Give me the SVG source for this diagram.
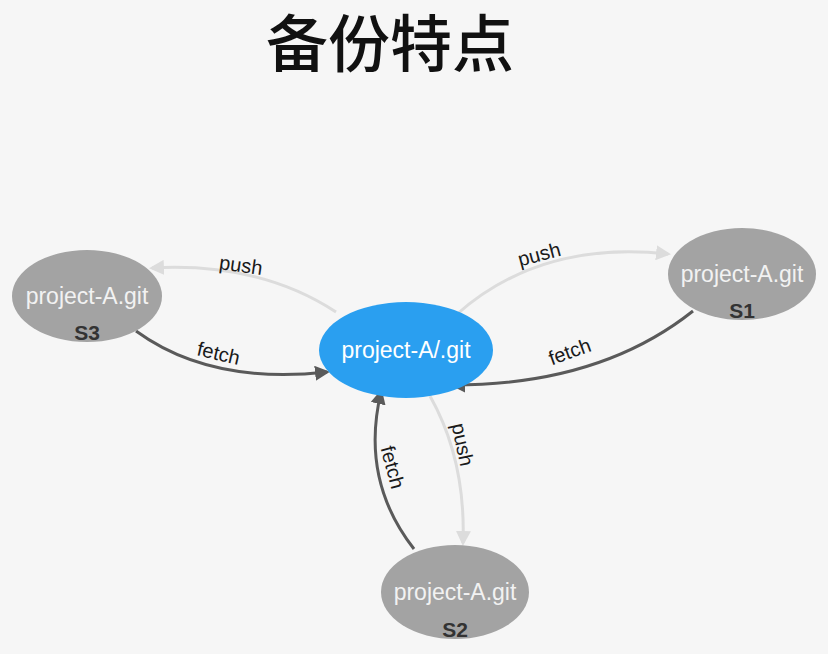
<svg xmlns="http://www.w3.org/2000/svg" width="828" height="654" viewBox="0 0 828 654">
<defs>
<style>
.push{fill:none;stroke:#dcdcdc;stroke-width:3}
.fetch{fill:none;stroke:#5a5a5a;stroke-width:3}
.lbl{font-family:"Liberation Sans",Arial,sans-serif;font-size:20px;fill:#1a1a1a;text-anchor:middle}
.name{font-family:"Liberation Sans",Arial,sans-serif;font-size:23px;fill:#f2f2f2;text-anchor:middle}
.sid{font-family:"Liberation Sans",Arial,sans-serif;font-size:21px;font-weight:bold;fill:#333;text-anchor:middle}
.srv{fill:#a3a3a3}
</style>
<marker id="ap" viewBox="0 0 10 10" refX="8" refY="5" markerWidth="5" markerHeight="5" orient="auto" markerUnits="strokeWidth"><path d="M0,0L10,5L0,10z" fill="#dcdcdc"/></marker>
<marker id="af" viewBox="0 0 10 10" refX="8" refY="5" markerWidth="5" markerHeight="5" orient="auto" markerUnits="strokeWidth"><path d="M0,0L10,5L0,10z" fill="#5a5a5a"/></marker>
</defs>
<rect width="828" height="654" fill="#f6f6f6"/>
<text x="390" y="67" font-family="'Noto Sans CJK SC',sans-serif" font-size="62" font-weight="500" fill="#111" text-anchor="middle">备份特点</text>
<g id="connectors">
<path class="push" d="M336,312 Q260,262 152,268" marker-end="url(#ap)"/>
<path class="fetch" d="M136,331 Q210,385 327,372" marker-end="url(#af)"/>
<path class="push" d="M456,315 Q540,240 668,254" marker-end="url(#ap)"/>
<path class="fetch" d="M693,311 Q600,385 453,385" marker-end="url(#af)"/>
<path class="push" d="M430,396 Q466,460 463,543" marker-end="url(#ap)"/>
<path class="fetch" d="M414,549 Q360,480 381,392" marker-end="url(#af)"/>
<text class="lbl" transform="translate(240,272) rotate(8)">push</text>
<text class="lbl" transform="translate(217,360) rotate(13)">fetch</text>
<text class="lbl" transform="translate(541,261) rotate(-15)">push</text>
<text class="lbl" transform="translate(572,358) rotate(-20)">fetch</text>
<text class="lbl" transform="translate(456,446) rotate(78)">push</text>
<text class="lbl" transform="translate(386,469) rotate(75)">fetch</text>
</g>
<g id="center">
<ellipse cx="406" cy="350" rx="87" ry="48" fill="#2a9ff0"/>
<text class="name" x="406" y="358" style="fill:#fff">project-A/.git</text>
</g>
<g id="s3">
<ellipse class="srv" cx="87" cy="296" rx="75" ry="46"/>
<text class="name" x="87" y="304">project-A.git</text>
<text class="sid" x="87" y="340">S3</text>
</g>
<g id="s1">
<ellipse class="srv" cx="742" cy="274" rx="74" ry="46"/>
<text class="name" x="742" y="282">project-A.git</text>
<text class="sid" x="742" y="318">S1</text>
</g>
<g id="s2">
<ellipse class="srv" cx="455" cy="592" rx="74" ry="47"/>
<text class="name" x="455" y="600">project-A.git</text>
<text class="sid" x="455" y="637">S2</text>
</g>
</svg>
